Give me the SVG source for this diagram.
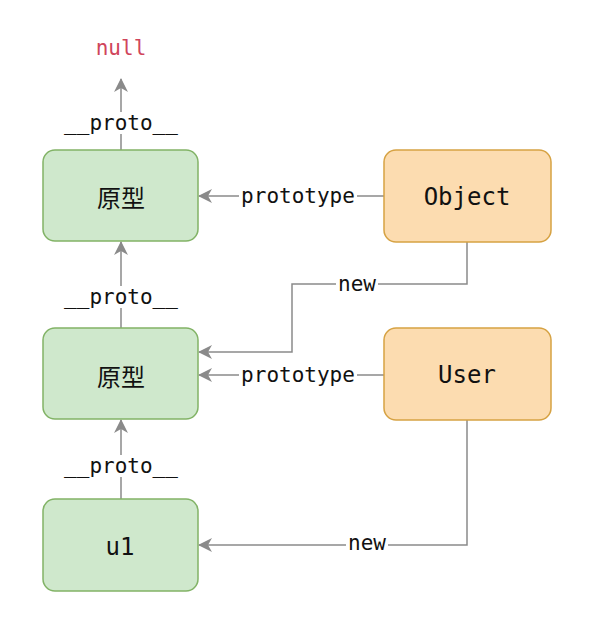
<svg xmlns="http://www.w3.org/2000/svg" width="593" height="617" viewBox="0 0 593 617">
<style>
.g{fill:#cfe8cc;stroke:#82b366;stroke-width:1.5}
.o{fill:#fcdcb0;stroke:#d6a243;stroke-width:1.5}
.t{font-family:"DejaVu Sans Mono","Liberation Mono",monospace;font-size:24px;fill:#111;text-anchor:middle;dominant-baseline:central}
.c{font-family:"Noto Sans CJK SC","Noto Sans",sans-serif;font-size:24px;fill:#111;text-anchor:middle;dominant-baseline:central}
.l{font-family:"DejaVu Sans Mono","Liberation Mono",monospace;font-size:21px;fill:#111;text-anchor:middle;dominant-baseline:central}
.e{fill:none;stroke:#8a8a8a;stroke-width:1.5}
.bg{fill:#fff}
</style>
<defs>
<marker id="a" viewBox="0 0 14 14" refX="13" refY="7" markerWidth="14" markerHeight="14" markerUnits="userSpaceOnUse" orient="auto">
<path d="M0,0 L14,7 L0,14 L4,7 Z" fill="#8a8a8a"/>
</marker>
</defs>
<rect width="593" height="617" fill="#fff"/>
<g id="connectors">
<path class="e" d="M121,150 V79" marker-end="url(#a)"/>
<path class="e" d="M121,328 V242" marker-end="url(#a)"/>
<path class="e" d="M121,499 V420" marker-end="url(#a)"/>
<path class="e" d="M384,196 H199" marker-end="url(#a)"/>
<path class="e" d="M384,375 H199" marker-end="url(#a)"/>
<path class="e" d="M467,242 V284 H292 V352 H199" marker-end="url(#a)"/>
<path class="e" d="M467,420 V545 H199" marker-end="url(#a)"/>
<rect class="bg" x="61" y="112" width="121" height="22"/>
<text class="l" x="121" y="123">__proto__</text>
<rect class="bg" x="61" y="286" width="121" height="22"/>
<text class="l" x="121" y="297">__proto__</text>
<rect class="bg" x="61" y="455" width="121" height="22"/>
<text class="l" x="121" y="466">__proto__</text>
<rect class="bg" x="239" y="185" width="118" height="22"/>
<text class="l" x="298" y="196">prototype</text>
<rect class="bg" x="336" y="273" width="42" height="22"/>
<text class="l" x="357" y="284">new</text>
<rect class="bg" x="239" y="364" width="118" height="22"/>
<text class="l" x="298" y="375">prototype</text>
<rect class="bg" x="346" y="532" width="42" height="22"/>
<text class="l" x="367" y="543">new</text>
</g>
<g id="null"><text class="l" x="121" y="48" style="fill:#d0455b">null</text></g>
<g id="proto1"><rect class="g" x="43" y="150" width="155" height="91" rx="12"/><text class="c" x="121" y="196">原型</text></g>
<g id="proto2"><rect class="g" x="43" y="328" width="155" height="91" rx="12"/><text class="c" x="121" y="375">原型</text></g>
<g id="u1"><rect class="g" x="43" y="499" width="155" height="92" rx="12"/><text class="t" x="120" y="547">u1</text></g>
<g id="Object"><rect class="o" x="384" y="150" width="167" height="92" rx="12"/><text class="t" x="467" y="197">Object</text></g>
<g id="User"><rect class="o" x="384" y="328" width="167" height="92" rx="12"/><text class="t" x="467" y="375">User</text></g>
</svg>
